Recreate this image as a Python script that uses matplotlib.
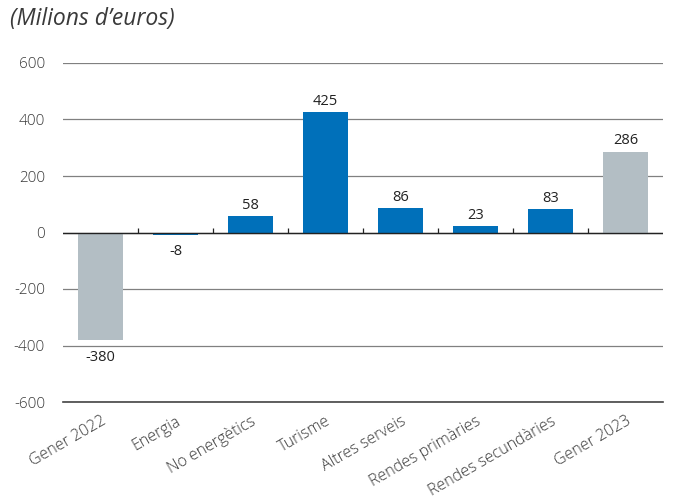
import matplotlib
matplotlib.use("Agg")
import matplotlib.pyplot as plt
import numpy as np

categories = ["Gener 2022", "Energia", "No energètics", "Turisme", "Altres serveis",
              "Rendes primàries", "Rendes secundàries", "Gener 2023"]
values = [-380, -8, 58, 425, 86, 23, 83, 286]
is_total = [True, False, False, False, False, False, False, True]
yticks = [-600, -400, -200, 0, 200, 400, 600]

plt.rcParams['font.family'] = ['Open Sans', 'DejaVu Sans']

blue = "#0070BA"
grey = "#B3BEC4"
textc = "#3a3a3a"

fig = plt.figure(figsize=(6.76, 5.04), dpi=100)
ax = fig.add_axes([63 / 676, 1 - 402 / 504, 600 / 676, 339 / 504])

x = np.arange(len(categories))
colors = [grey if t else blue for t in is_total]
ax.bar(x, values, width=0.6, color=colors, zorder=3)

ax.set_xlim(-0.5, len(categories) - 0.5)
ax.set_ylim(-600, 600)
ax.set_yticks(yticks)
ax.set_yticklabels([str(v) for v in yticks], fontsize=11, color=textc, fontweight='light')
ax.tick_params(axis='y', length=0, pad=13)
ax.yaxis.grid(True, color="#808080", linewidth=0.9, zorder=0)
ax.axhline(0, color="#222222", linewidth=1.0, zorder=4)
ax.axhline(-600, color="#444444", linewidth=1.2, zorder=4, clip_on=False)

# small separator ticks on the zero line
ax.vlines(x[:-1] + 0.5, 0, 15, color="#222222", linewidth=0.9, zorder=4)

ax.set_xticks(x)
ax.set_xticklabels(categories, rotation=30, ha="right", rotation_mode="anchor",
                   fontsize=11.5, color=textc, fontweight='light')
ax.tick_params(axis='x', length=0, pad=8)

for s in ax.spines.values():
    s.set_visible(False)

for xi, v in zip(x, values):
    if v >= 0:
        ax.annotate(str(v), (xi, v), xytext=(0, 2.5), textcoords="offset points",
                    ha="center", va="bottom", fontsize=10.5, color="#222222")
    else:
        ax.annotate(str(v), (xi, v), xytext=(0, -7), textcoords="offset points",
                    ha="center", va="top", fontsize=10.5, color="#222222")

fig.text(10 / 676, 1 - 19 / 504, "(Milions d\u2019euros)", fontsize=16.5, style="italic",
         color=textc, ha="left", va="center")

fig.savefig("out.png", dpi=100)
